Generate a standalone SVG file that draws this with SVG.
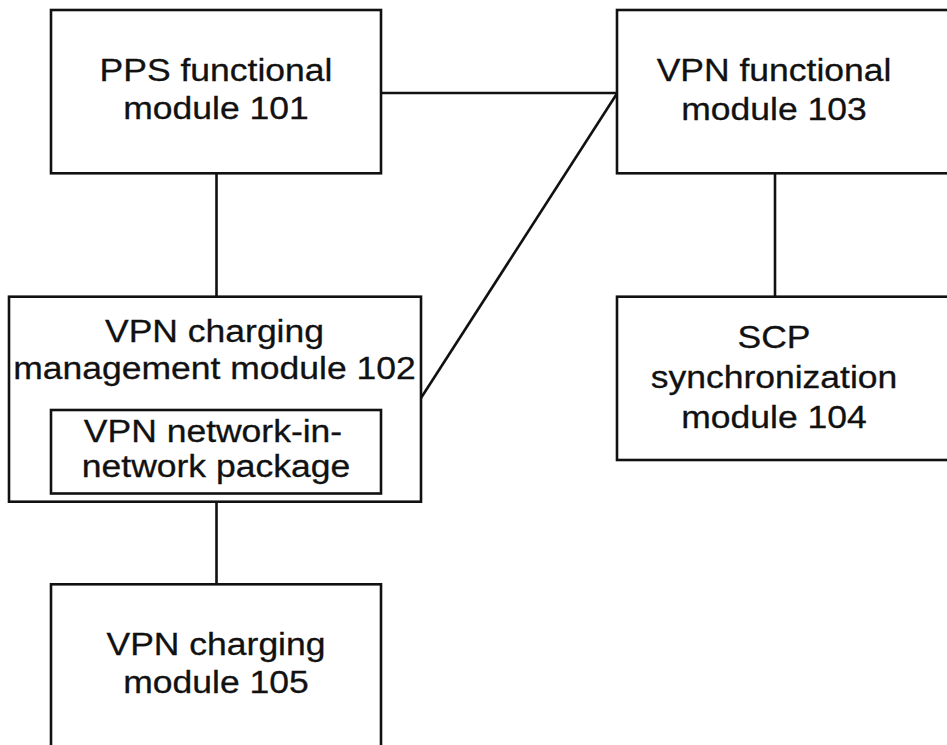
<svg xmlns="http://www.w3.org/2000/svg" width="947" height="745" viewBox="0 0 947 745">
  <style>
    .box { fill: #ffffff; stroke: #111111; stroke-width: 2.6; }
    .link { stroke: #111111; stroke-width: 2.6; fill: none; }
    .lbl { font-family: "Liberation Sans", Arial, sans-serif; font-size: 31px; fill: #111111; text-anchor: middle; stroke: #111111; stroke-width: 0.3; }
  </style>
  <rect width="947" height="745" fill="#ffffff"/>

  <!-- connectors -->
  <g id="connectors">
    <line class="link" x1="381" y1="93" x2="617" y2="93"/>
    <line class="link" x1="617" y1="93.5" x2="421" y2="398"/>
    <line class="link" x1="216.5" y1="173.3" x2="216.5" y2="296.7"/>
    <line class="link" x1="775" y1="173.3" x2="775" y2="296.7"/>
    <line class="link" x1="216.5" y1="501.7" x2="216.5" y2="584.3"/>
  </g>

  <!-- PPS functional module -->
  <g id="node101">
    <rect class="box" x="51" y="10" width="330" height="163.3"/>
    <text class="lbl" transform="translate(216,81) scale(1.145,1)">PPS functional</text>
    <text class="lbl" transform="translate(216,119) scale(1.145,1)">module 101</text>
  </g>

  <!-- VPN functional module -->
  <g id="node103">
    <rect class="box" x="617" y="10" width="345" height="163.3"/>
    <text class="lbl" transform="translate(774,81) scale(1.145,1)">VPN functional</text>
    <text class="lbl" transform="translate(774,119.5) scale(1.145,1)">module 103</text>
  </g>

  <!-- VPN charging management module with nested package -->
  <g id="node102">
    <rect class="box" x="9" y="296.7" width="412" height="205"/>
    <text class="lbl" transform="translate(214.5,341.5) scale(1.145,1)">VPN charging</text>
    <text class="lbl" transform="translate(214.5,378.5) scale(1.145,1)">management module 102</text>
    <g id="package">
      <rect class="box" x="51" y="410" width="330" height="83.5"/>
      <text class="lbl" transform="translate(213,441.5) scale(1.145,1)">VPN network-in-</text>
      <text class="lbl" transform="translate(216,477) scale(1.145,1)">network package</text>
    </g>
  </g>

  <!-- SCP synchronization module -->
  <g id="node104">
    <rect class="box" x="617" y="296.7" width="345" height="163.3"/>
    <text class="lbl" transform="translate(774,348) scale(1.145,1)">SCP</text>
    <text class="lbl" transform="translate(774,388) scale(1.145,1)">synchronization</text>
    <text class="lbl" transform="translate(774,427.5) scale(1.145,1)">module 104</text>
  </g>

  <!-- VPN charging module -->
  <g id="node105">
    <rect class="box" x="51" y="584.3" width="330" height="180"/>
    <text class="lbl" transform="translate(216,655) scale(1.145,1)">VPN charging</text>
    <text class="lbl" transform="translate(216,693) scale(1.145,1)">module 105</text>
  </g>
</svg>
